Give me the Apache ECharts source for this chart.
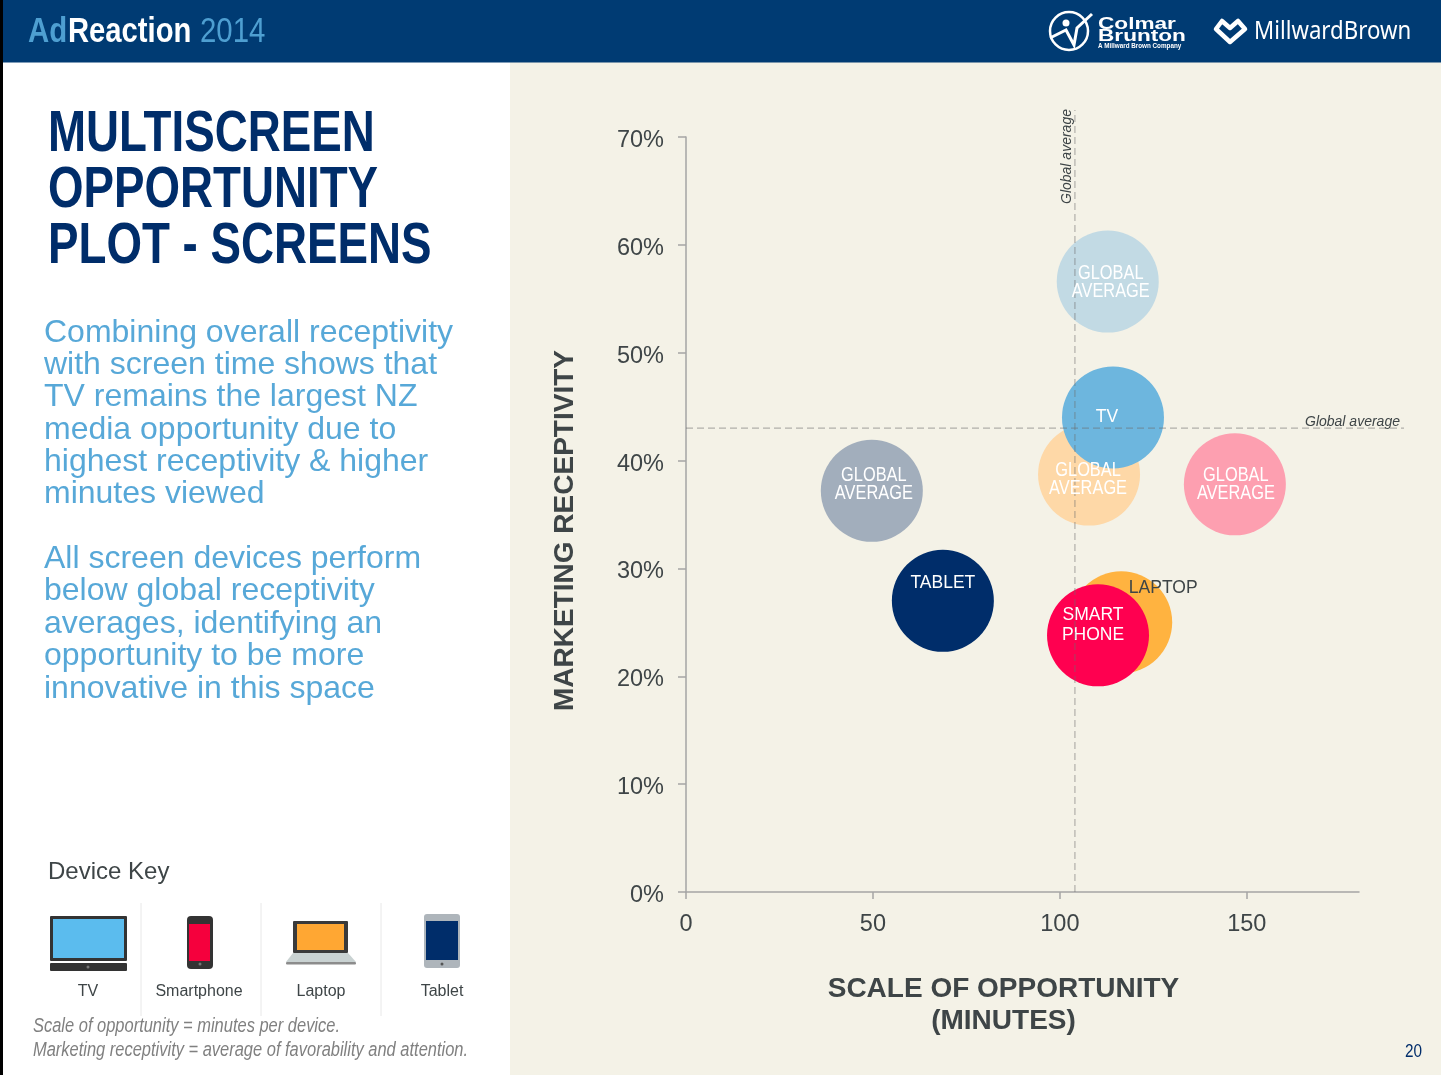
<!DOCTYPE html>
<html><head><meta charset="utf-8">
<style>html,body{margin:0;padding:0;background:#fff}#c{width:1441px;height:1075px}</style>
<script src="https://cdn.jsdelivr.net/npm/echarts@6/dist/echarts.min.js"></script></head>
<body><div id="c"></div>
<script>
// ---- data ----
const bubbleNames = ['Global TV','Global Tablet','Global Laptop','Global Smartphone','TV','Tablet','Laptop','Smartphone'];
const minutes = [112.8,49.7,107.8,146.8,114.2,68.7,116.4,110.2];
const receptivity = [56.6,37.2,38.7,37.8,44.0,27.0,25.0,23.8];
const bubbleLabels = ['GLOBAL\nAVERAGE','GLOBAL\nAVERAGE','GLOBAL\nAVERAGE','GLOBAL\nAVERAGE','TV','TABLET','LAPTOP','SMART\nPHONE'];
const globalAvgMinutes = 104;
const globalAvgReceptivity = 43;
const xTicks = [0,50,100,150];
const titleLines = ['MULTISCREEN','OPPORTUNITY','PLOT - SCREENS'];
const bodyLines = ['Combining overall receptivity','with screen time shows that','TV remains the largest NZ','media opportunity due to','highest receptivity & higher','minutes viewed'];
const bodyLines2 = ['All screen devices perform','below global receptivity','averages, identifying an','opportunity to be more','innovative in this space'];
const keyNames = ['TV','Smartphone','Laptop','Tablet'];
const notes = ['Scale of opportunity = minutes per device.','Marketing receptivity = average of favorability and attention.'];

// ---- styling ----
const bubbleColors = ['#c2dae4','#a2aebc','#fed8a7','#fd9fb0','#6db6de','#002d6a','#ffb340','#ff0050'];
const labelOffsets = [[3,1],[2,-6],[-1,5],[1,0],[-6,0],[0,-18],[42,-34],[-5,-10]];
const labelCondensed = [1,1,1,1,0,0,0,0];
const labelColors = ['#fff','#fff','#fff','#fff','#fff','#fff','#3e4547','#fff'];
const SANS='"Liberation Sans",Arial,sans-serif';
const bubbleData = minutes.map((m,i)=>({
  name:bubbleNames[i], value:[m,receptivity[i]],
  itemStyle:{color:bubbleColors[i],opacity:1},
  label: labelCondensed[i] ? {show:false} : {show:true,position:'inside',formatter:bubbleLabels[i],offset:labelOffsets[i],color:labelColors[i],
    fontFamily:SANS,fontSize:17.5,lineHeight:20}
}));
// condensed labels on the bubbles, placed through the same axes
const condensedData = minutes.map((m,i)=>[m,receptivity[i],i]).filter(d=>labelCondensed[d[2]]);

function stext(x,y,text,o){return Object.assign({type:'text',x:x,y:y,silent:true,style:Object.assign({text:text,fontFamily:SANS,verticalAlign:'middle'},o.style)},o.el||{});}
const g=[];
// backgrounds
g.push({type:'rect',shape:{x:0,y:0,width:3,height:1075},style:{fill:'#000'},z:-5});
g.push({type:'rect',shape:{x:510,y:62,width:931,height:1013},style:{fill:'#f4f2e7'},z:-5});
g.push({type:'rect',shape:{x:3,y:0,width:1438,height:62.5},style:{fill:'#003b73'},z:-4});
// header
g.push(stext(28,32,'Ad',{el:{scaleX:.84},style:{fontSize:35,fontWeight:'bold',fill:'#4e9fd1'}}));
g.push(stext(68,32,'Reaction',{el:{scaleX:.835},style:{fontSize:35,fontWeight:'bold',fill:'#fff'}}));
g.push(stext(200,32,'2014',{el:{scaleX:.84},style:{fontSize:35,fill:'#4e9fd1'}}));
// logos
g.push({type:'circle',shape:{cx:1069,cy:31,r:19},style:{fill:'none',stroke:'#fff',lineWidth:2.5}});
g.push({type:'polyline',shape:{points:[[1050,38],[1066,30],[1074,45],[1077,28],[1092,14]]},style:{fill:'none',stroke:'#fff',lineWidth:3}});
g.push({type:'circle',shape:{cx:1066,cy:23,r:3.5},style:{fill:'#fff'}});
g.push(stext(1098,24,'Colmar',{el:{scaleX:1.33},style:{fontSize:17,fontWeight:'bold',fill:'#fff'}}));
g.push(stext(1098,36,'Brunton',{el:{scaleX:1.33},style:{fontSize:17,fontWeight:'bold',fill:'#fff'}}));
g.push(stext(1098,46,'A Millward Brown Company',{style:{fontSize:6.3,fontWeight:'bold',fill:'#fff'}}));
g.push({type:'polygon',shape:{points:[[1230,42],[1216,29],[1222,21],[1230,28],[1238,21],[1245,29]]},style:{fill:'none',stroke:'#fff',lineWidth:4.5,lineJoin:'round'}});
g.push(stext(1254,32,'MillwardBrown',{style:{fontSize:25,fontFamily:'"Noto Sans",sans-serif',fill:'#fff'}, el:{scaleX:.89}}));
// title
titleLines.forEach((t,i)=>g.push(stext(48,135+i*56,t,{el:{scaleX:.788},style:{fontSize:58,fontWeight:'bold',fill:'#002d6a'}})));
// body
bodyLines.forEach((t,i)=>g.push(stext(44,333+i*32.3,t,{style:{fontSize:32,fill:'#57a8d8'}})));
bodyLines2.forEach((t,i)=>g.push(stext(44,559+i*32.5,t,{style:{fontSize:32,fill:'#57a8d8'}})));
// key
g.push(stext(48,872,'Device Key',{style:{fontSize:24,fill:'#3e4547'}}));
[141,261,381].forEach(x=>g.push({type:'line',shape:{x1:x,y1:903,x2:x,y2:1016},style:{stroke:'#e8e8e8',lineWidth:1}}));
[88,199,321,442].forEach((x,i)=>g.push(stext(x,992,keyNames[i],{style:{fontSize:16,align:'center',fill:'#3e4547'}})));
function r(x,y,w,h,fill,rad){g.push({type:'rect',shape:{x,y,width:w,height:h,r:rad||0},style:{fill}});}
// TV icon
r(50,916,77,45,'#333',1); r(53,919,71,39,'#5bbcee'); r(50,963,77,8,'#333',1);
g.push({type:'circle',shape:{cx:88,cy:967,r:1.5},style:{fill:'#777'}});
// phone icon
r(187,916,26,53,'#333',4); r(189,924,21,37,'#f5003d');
g.push({type:'circle',shape:{cx:200,cy:964,r:1.5},style:{fill:'#777'}});
// laptop icon
r(293,921,55,32,'#3a3a3a',1); r(297,924,47,26,'#ffa733');
g.push({type:'polygon',shape:{points:[[293,953],[348,953],[356,962],[286,962]]},style:{fill:'#c9d2d2'}});
r(286,962,70,2.5,'#8c8c8c',1);
// tablet icon
r(424,914,36,54,'#aeb5bb',3); r(426,921,32,39,'#002d6a');
g.push({type:'circle',shape:{cx:442,cy:964,r:1.5},style:{fill:'#555'}});
// notes
notes.forEach((t,i)=>g.push(stext(33,1026+i*24,t,{el:{scaleX:.823},style:{fontSize:20,fontStyle:'italic',fill:'#808080'}})));
g.push(stext(1405,1052,'20',{el:{scaleX:.85},style:{fontSize:18,fill:'#002d6a'}}));

const refLine={color:'rgba(110,110,110,.5)',width:1.2,type:[7,4]};
const axisCol='#a5a5a5';
const option={
  animation:false,backgroundColor:'#fff',
  grid:[
    {left:686,top:137,width:673,height:755},
    // same scale as the main grid, wider and taller so the reference lines can overrun the axes
    {left:686,top:110,width:718,height:782}
  ],
  xAxis:[{type:'value',gridIndex:0,min:0,max:180,interval:50,splitLine:{show:false},
    axisLine:{onZero:false,lineStyle:{color:axisCol,width:1.5}},
    axisTick:{length:7,lineStyle:{color:axisCol,width:1.5},customValues:xTicks},
    axisLabel:{customValues:xTicks,fontSize:23.5,fontFamily:SANS,color:'#3e4547',margin:21},
    name:'SCALE OF OPPORTUNITY\n(MINUTES)',nameLocation:'middle',nameGap:81,
    nameTextStyle:{fontSize:28,fontWeight:'bold',fontFamily:SANS,color:'#3e4547',lineHeight:32,padding:[0,38,0,0]}},
    {type:'value',gridIndex:1,min:0,max:192,show:false}],
  yAxis:[{type:'value',gridIndex:0,min:0,max:70,interval:10,splitLine:{show:false},
    axisLine:{show:true,lineStyle:{color:axisCol,width:1.5}},
    axisTick:{show:true,length:8,lineStyle:{color:axisCol,width:1.5}},
    axisLabel:{formatter:'{v|{value}%}',margin:22,
      rich:{v:{fontSize:23.5,fontFamily:SANS,color:'#3e4547',padding:[7,0,0,0]}}},
    name:'MARKETING RECEPTIVITY',nameLocation:'middle',nameGap:107,
    nameTextStyle:{fontSize:28,fontWeight:'bold',fontFamily:SANS,color:'#3e4547',padding:[0,32,0,0]}},
    {type:'value',gridIndex:1,min:0,max:72.5,show:false}],
  series:[
    {type:'scatter',name:'Screens',symbol:'circle',symbolSize:102,data:bubbleData,z:2,xAxisIndex:0,yAxisIndex:0},
    {type:'line',name:'Global average minutes',symbol:'none',z:3,silent:true,xAxisIndex:1,yAxisIndex:1,
      data:[[globalAvgMinutes,0],[globalAvgMinutes,72.5]],lineStyle:refLine,
      endLabel:{show:true,formatter:'Global average',rotate:90,color:'#3e4547',fontStyle:'italic',fontSize:14,fontFamily:SANS,offset:[-94,-16]}},
    {type:'line',name:'Global average receptivity',symbol:'none',z:3,silent:true,xAxisIndex:1,yAxisIndex:1,
      data:[[0,globalAvgReceptivity],[192,globalAvgReceptivity]],lineStyle:refLine,
      endLabel:{show:true,formatter:'Global average',color:'#3e4547',fontStyle:'italic',fontSize:14,fontFamily:SANS,offset:[-107,-6]}},
    {type:'custom',name:'Global labels',z:4,silent:true,xAxisIndex:0,yAxisIndex:0,clip:false,
      data:condensedData,encode:{x:0,y:1},
      renderItem:(p,api)=>{
        const i=api.value(2), c=api.coord([api.value(0),api.value(1)]);
        return {type:'text',x:c[0]+labelOffsets[i][0],y:c[1]+labelOffsets[i][1],scaleX:.84,
          style:{text:bubbleLabels[i],fill:labelColors[i],fontFamily:SANS,fontSize:19.5,lineHeight:18,align:'center',verticalAlign:'middle'}};
      }}
  ],
  graphic:{elements:g}
};
echarts.init(document.getElementById('c'),null,{renderer:'canvas'}).setOption(option);
</script></body></html>
